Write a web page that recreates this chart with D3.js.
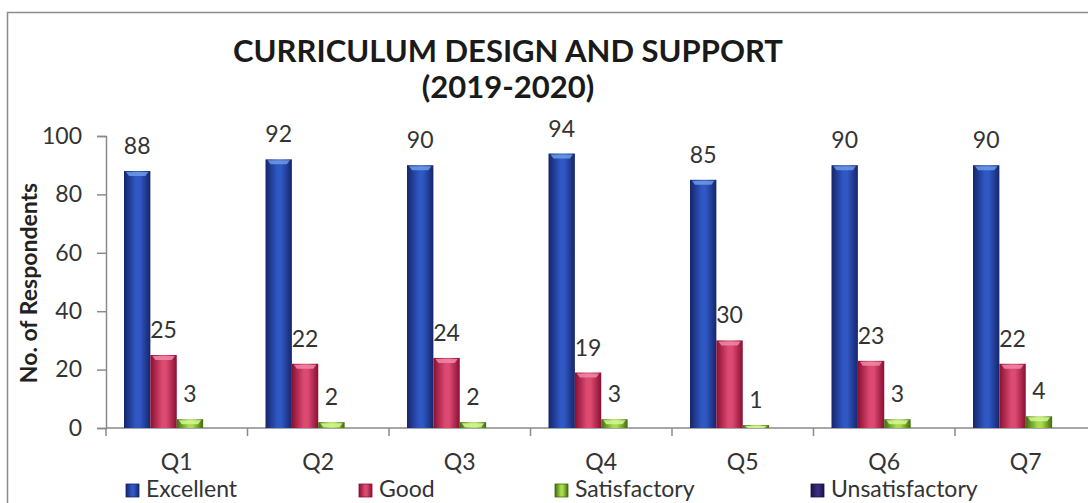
<!DOCTYPE html>
<html><head><meta charset="utf-8">
<script src="https://cdn.jsdelivr.net/npm/d3@7"></script>
<style>
html,body{margin:0;padding:0;background:#fff;}
svg{display:block;font-family:Lato, "Open Sans", sans-serif;}
</style></head>
<body><svg id="c" width="1088" height="503"></svg>
<script>
const categories = ["Q1","Q2","Q3","Q4","Q5","Q6","Q7"];
const seriesNames = ["Excellent","Good","Satisfactory","Unsatisfactory"];
const excellent = [88,92,90,94,85,90,90];
const good = [25,22,24,19,30,23,22];
const satisfactory = [3,2,2,3,1,3,4];
const unsatisfactory = [0,0,0,0,0,0,0];
const yTicks = [0,20,40,60,80,100];
const titleLines = ["CURRICULUM DESIGN AND SUPPORT","(2019-2020)"];
const yTitle = "No. of Respondents";

const seriesValues = [excellent, good, satisfactory, unsatisfactory];
const colors = [
  {edge:"#16256b", mid:"#2f58c4", top:"#6d9be6"},
  {edge:"#8a0f33", mid:"#dc4a72", top:"#f08aa6"},
  {edge:"#3f6d0c", mid:"#a8dc4c", top:"#d6f59a"},
  {edge:"#1a1245", mid:"#3a2d80", top:"#6a5cb8"}
];

const svg = d3.select("#c");
const defs = svg.append("defs");
colors.forEach((c,i)=>{
  const g = defs.append("linearGradient").attr("id","g"+i).attr("x1","0").attr("x2","1").attr("y1","0").attr("y2","0");
  g.append("stop").attr("offset","0%").attr("stop-color",c.edge);
  g.append("stop").attr("offset","45%").attr("stop-color",c.mid);
  g.append("stop").attr("offset","60%").attr("stop-color",c.mid);
  g.append("stop").attr("offset","100%").attr("stop-color",c.edge);
});

// frame
svg.append("rect").attr("x",7.5).attr("y",12.5).attr("width",1100).attr("height",520)
  .attr("fill","none").attr("stroke","#8c8c8c").attr("stroke-width",1.5);

const x0 = 106, plotTop = 136, plotBottom = 428;
const x = d3.scaleBand().domain(categories).range([x0, x0 + 7*141.5]).padding(0);
const xs = d3.scaleBand().domain(seriesNames).range([18, 141.5-18]).padding(0);
const y = d3.scaleLinear().domain([0,100]).range([plotBottom, plotTop]);

// title
svg.append("g").selectAll("text").data(titleLines).join("text")
  .attr("x",508).attr("y",(d,i)=>62+i*36)
  .attr("text-anchor","middle").attr("font-weight","bold")
  .attr("font-size",31).attr("fill","#1a1a1a").text(d=>d);

// y axis
const yAxis = d3.axisLeft(y).tickValues(yTicks).tickSize(9).tickPadding(15);
const yg = svg.append("g").attr("transform",`translate(${x0},0)`).call(yAxis);
yg.select(".domain").attr("stroke","#8a8a8a").attr("stroke-width",1.5);
yg.selectAll(".tick line").attr("stroke","#8a8a8a").attr("stroke-width",1.5);
yg.selectAll(".tick text").attr("font-size",23).attr("fill","#333").attr("font-family","Lato, sans-serif");

// x axis
const xg = svg.append("g").attr("transform",`translate(0,${plotBottom})`);
xg.append("line").attr("x1",x0).attr("x2",1088).attr("y1",0).attr("y2",0)
  .attr("stroke","#8a8a8a").attr("stroke-width",1.5);
xg.selectAll("line.t").data(categories).join("line").attr("class","t")
  .attr("x1",d=>x(d)).attr("x2",d=>x(d)).attr("y1",0).attr("y2",8)
  .attr("stroke","#8a8a8a").attr("stroke-width",1.5);
xg.selectAll("text").data(categories).join("text")
  .attr("x",d=>x(d)+x.bandwidth()/2).attr("y",42)
  .attr("text-anchor","middle").attr("font-size",23).attr("fill","#333").text(d=>d);

// y title
svg.append("text").attr("transform","translate(37,283) rotate(-90)")
  .attr("text-anchor","middle").attr("font-weight","bold").attr("font-size",23)
  .attr("fill","#222").text(yTitle);

// bars
const groups = svg.append("g").selectAll("g").data(categories).join("g")
  .attr("transform",d=>`translate(${x(d)},0)`);
groups.each(function(cat,ci){
  const g = d3.select(this);
  seriesNames.forEach((s,si)=>{
    const v = seriesValues[si][ci];
    const bx = xs(s), bw = xs.bandwidth();
    const top = y(v), h = plotBottom - top;
    if (v > 0) {
      g.append("rect").attr("x",bx).attr("y",top).attr("width",bw).attr("height",h)
        .attr("fill",`url(#g${si})`);
      g.append("path")
        .attr("d",`M${bx+2},${top+1} L${bx+bw-2},${top+1} L${bx+bw-5},${top+Math.min(5,h)} L${bx+5},${top+Math.min(5,h)} Z`)
        .attr("fill",colors[si].top).attr("opacity",0.85);
      g.append("text").attr("x",bx+bw/2).attr("y",top-17)
        .attr("text-anchor","middle").attr("font-size",23).attr("fill","#333").text(v);
    }
  });
});

// legend
const legendX = [126, 359, 555, 811];
const lg = svg.append("g").selectAll("g").data(seriesNames).join("g")
  .attr("transform",(d,i)=>`translate(${legendX[i]},484)`);
lg.append("rect").attr("width",13).attr("height",13).attr("fill",(d,i)=>`url(#g${i})`)
  .attr("stroke",(d,i)=>colors[i].edge).attr("stroke-width",0.8);
lg.append("text").attr("x",20).attr("y",13).attr("font-size",23).attr("fill","#333").text(d=>d);
</script></body></html>
